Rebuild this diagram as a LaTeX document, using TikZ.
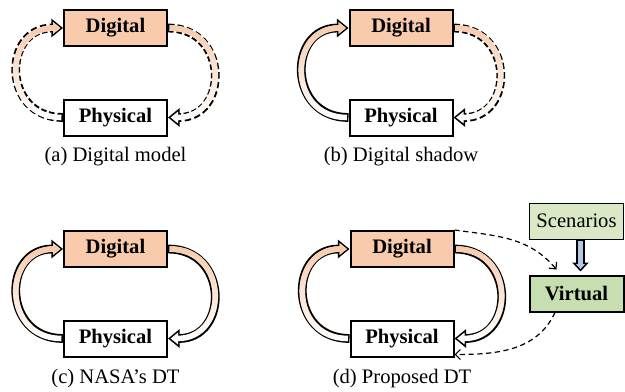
\documentclass[tikz,border=0pt]{standalone}
\usepackage{fontspec}
\setmainfont{Liberation Serif}[BoldFont={Liberation Serif Bold}]
\usetikzlibrary{arrows.meta,positioning,fadings}

\definecolor{peach}{HTML}{F8CBAD}
\definecolor{scengreen}{HTML}{DAE8C6}
\definecolor{virtgreen}{HTML}{C7DEB0}
\definecolor{flowblue}{HTML}{B4C7E7}

% outline, white body, then a peach body fading out downwards
\newcommand{\fatarrow}[2][]{%
  \draw[fatout,#1] #2;
  \draw[fatin] #2;
  \draw[fatin,peach,path fading=south] #2;
}

\begin{document}
\begin{tikzpicture}[x=0.5pt, y=0.5pt, node distance=25.75pt,
    font=\fontsize{10.3}{12}\selectfont,
    box/.style={draw, line width=1pt, minimum width=51.5pt, minimum height=18pt, inner sep=0pt,
      font=\fontsize{10.3}{12}\selectfont\bfseries},
    digital/.style={box, fill=peach},
    physical/.style={box, fill=white},
    fatout/.style={line width=4.4pt, -{Triangle[length=5.8pt,width=9pt]}},
    fatin/.style={white, line width=2.8pt, shorten <=0.8pt, shorten >=1.3pt,
      -{Triangle[length=3.7pt,width=5.7pt]}},
    dashfat/.style={dash pattern=on 3pt off 1.5pt},
    link/.style={line width=0.6pt, dash pattern=on 2.6pt off 1.8pt,
      -{Straight Barb[length=2.5pt,width=5pt]}}]
  \useasboundingbox (0,0) rectangle (625,-391);

  % the four panels
  \node[digital] (Da) at (115.5,-28) {Digital};
  \node[physical, below=of Da] (Pa) {Physical};
  \node[digital] (Db) at (401,-28) {Digital};
  \node[physical, below=of Db] (Pb) {Physical};
  \node[digital] (Dc) at (115.5,-249) {Digital};
  \node[physical, below=of Dc] (Pc) {Physical};
  \node[digital] (Dd) at (402,-249) {Digital};
  \node[physical, below=of Dd] (Pd) {Physical};

  % virtual side of (d)
  \node[box, minimum width=47pt, fill=virtgreen] (V) at (576.5,-293.5) {Virtual};
  \node[box, minimum width=47pt, line width=0.5pt, fill=scengreen,
    font=\fontsize{10.3}{12}\selectfont, above=17.5pt of V] (S) {Scenarios};

  % captions
  \node (capa) at (115.5,-157) {(a) Digital model};
  \node (capb) at (401,-157) {(b) Digital shadow};
  \node (capc) at (115.5,-379) {(c) NASA’s DT};
  \node (capd) at (402,-379) {(d) Proposed DT};

  % (a) both directions missing
  \fatarrow[dashfat]{(Pa.west) to[out=180,in=180,looseness=1.75] (Da.west)}
  \fatarrow[dashfat]{(Da.east) to[out=0,in=0,looseness=1.75] (Pa.east)}

  % (b) only physical to digital
  \fatarrow{(Pb.west) to[out=180,in=180,looseness=1.75] (Db.west)}
  \fatarrow[dashfat]{(Db.east) to[out=0,in=0,looseness=1.75] (Pb.east)}

  % (c) closed loop
  \fatarrow{(Pc.west) to[out=180,in=180,looseness=1.75] (Dc.west)}
  \fatarrow{(Dc.east) to[out=0,in=0,looseness=1.75] (Pc.east)}

  % (d) closed loop plus virtual twin
  \fatarrow{(Pd.west) to[out=180,in=180,looseness=1.75] (Dd.west)}
  \fatarrow{(Dd.east) to[out=0,in=0,looseness=1.75] (Pd.east)}

  \draw[fatout, shorten >=1.5pt, -{Triangle[length=4.5pt,width=8pt]}]
    ([xshift=2pt]S.south) -- ([xshift=2pt]V.north);
  \draw[fatin, flowblue, shorten >=2.7pt, -{Triangle[length=2.5pt,width=4.4pt]}]
    ([xshift=2pt]S.south) -- ([xshift=2pt]V.north);

  \draw[link] (Dd.north east) to[out=-8,in=130] ([xshift=-10pt,yshift=2.5pt]V.north);
  \draw[link] ([xshift=-10.75pt]V.south) to[out=-115,in=0] ([yshift=1.5pt]Pd.south east);
\end{tikzpicture}
\end{document}
